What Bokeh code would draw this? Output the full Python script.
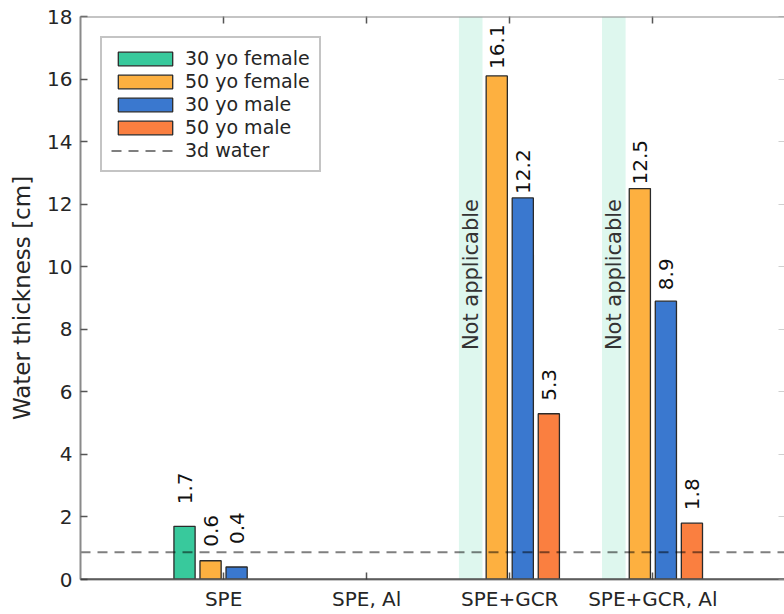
import numpy as np
from bokeh.plotting import figure
from bokeh.models import (Range1d, FixedTicker, LinearAxis, Span, Legend,
                          LegendItem, ColumnDataSource)
from bokeh.core.properties import value
from bokeh.embed import file_html
from bokeh.resources import INLINE

# ---- data -----------------------------------------------------------------
categories = ["SPE", "SPE, Al", "SPE+GCR", "SPE+GCR, Al"]
series_names = ["30 yo female", "50 yo female", "30 yo male", "50 yo male"]
female_30 = [1.7, 0.0, 0.0, 0.0]
female_50 = [0.6, 0.0, 16.1, 12.5]
male_30 = [0.4, 0.0, 12.2, 8.9]
male_50 = [0.0, 0.0, 5.3, 1.8]
female_30_not_applicable = [False, False, True, True]
water_3d = 0.87
y_ticks = [0, 2, 4, 6, 8, 10, 12, 14, 16, 18]

# ---- styling --------------------------------------------------------------
FONT = "DejaVu Sans"
TXT = "#262626"
colors = ["#38c99c", "#fdb040", "#3a78cf", "#fa7f40"]
offsets = [-0.273, -0.091, 0.091, 0.273]
bar_w = 0.148
# distance in px between bar top and the start of its value label
label_lift = [
    [22, 0, 0, 0],
    [14, 0, 7, 4],
    [23, 0, 4, 11],
    [0, 0, 13, 13],
]

series = [female_30, female_50, male_30, male_50]
cat_x = np.arange(1, len(categories) + 1)

p = figure(width=784, height=614, output_backend="svg", toolbar_location=None,
           x_range=Range1d(0, 4.92), y_range=Range1d(0, 18),
           min_border_left=80, min_border_right=0, min_border_top=16,
           min_border_bottom=35)
p.outline_line_color = None
p.xgrid.visible = False
p.ygrid.visible = False
p.background_fill_color = "white"
p.border_fill_color = "white"

# light bands marking combinations that do not apply
for i, na in enumerate(female_30_not_applicable):
    if na:
        p.vbar(x=cat_x[i] + offsets[0], top=p.y_range.end, bottom=0,
               width=0.165, fill_color="#def7ee", line_color=None)
        p.text(x=[cat_x[i] + offsets[0]], y=[9.75], text=["Not applicable"],
               angle=np.pi / 2, text_align="center", text_baseline="middle",
               text_font=value(FONT), text_font_size="21px", text_color="#333333")

# bars + value labels
legend_items = []
for s, vals in enumerate(series):
    xs = [cat_x[i] + offsets[s] for i, v in enumerate(vals) if v > 0]
    ys = [v for v in vals if v > 0]
    lifts = [-label_lift[s][i] for i, v in enumerate(vals) if v > 0]
    src = ColumnDataSource(dict(x=xs, top=ys, lbl=[f"{v:.1f}" for v in ys], off=lifts))
    r = p.vbar(x="x", top="top", bottom=0, width=bar_w, source=src,
               fill_color=colors[s], line_color="#2a2a2a", line_width=1.3)
    p.text(x="x", y="top", text="lbl", source=src, angle=np.pi / 2,
           text_align="left", text_baseline="middle", y_offset="off",
           text_font=value(FONT), text_font_size="20px", text_color="#111111")
    legend_items.append(LegendItem(label=series_names[s], renderers=[r]))

# reference line
wl = p.line(x=[p.x_range.start, p.x_range.end], y=[water_3d, water_3d],
            line_color="black", line_alpha=0.5, line_width=2, line_dash="10 7")
legend_items.append(LegendItem(label="3d water", renderers=[wl]))

# baseline
p.add_layout(Span(location=0, dimension="width", line_color="#303030", line_width=2))
# top frame line
p.add_layout(Span(location=p.y_range.end, dimension="width", line_color="#8a8a8a", line_width=2))

# axes
p.xaxis.ticker = FixedTicker(ticks=list(cat_x))
p.xaxis.major_label_overrides = {int(x): c for x, c in zip(cat_x, categories)}
p.yaxis.ticker = FixedTicker(ticks=y_ticks)
for ax in (p.xaxis[0], p.yaxis[0]):
    ax.major_tick_in = 7
    ax.major_tick_out = 0
    ax.minor_tick_in = 0
    ax.minor_tick_out = 0
    ax.major_tick_line_color = "#555555"
    ax.major_tick_line_width = 1.5
    ax.axis_line_color = "#8a8a8a"
    ax.axis_line_width = 2
    ax.major_label_text_font = FONT
    ax.major_label_text_font_size = "20px"
    ax.major_label_text_color = TXT
    ax.major_label_standoff = 8
p.xaxis.major_label_standoff = 7
p.yaxis.axis_label = "Water thickness [cm]"
p.yaxis.axis_label_text_font = FONT
p.yaxis.axis_label_text_font_size = "23px"
p.yaxis.axis_label_text_font_style = "normal"
p.yaxis.axis_label_text_color = TXT
p.yaxis.axis_label_standoff = 9

# unlabelled tick rows on the top and right frame edges
top_ax = LinearAxis(ticker=FixedTicker(ticks=list(cat_x)),
                    major_label_overrides={int(x): "" for x in cat_x},
                    major_tick_in=7, major_tick_out=0, minor_tick_in=0, minor_tick_out=0,
                    axis_line_color=None, major_tick_line_color="#555555",
                    major_tick_line_width=1.5, major_label_standoff=0)
p.add_layout(top_ax, "above")
right_ax = LinearAxis(ticker=FixedTicker(ticks=y_ticks),
                      major_label_overrides={t: "" for t in y_ticks},
                      major_tick_in=6, major_tick_out=0, minor_tick_in=0, minor_tick_out=0,
                      axis_line_color=None, major_tick_line_color="#d0d0d0",
                      major_label_standoff=0)
p.add_layout(right_ax, "right")

legend = Legend(items=legend_items, location="top_left", margin=20, padding=9,
                spacing=1, glyph_width=68, glyph_height=17, label_height=22,
                label_standoff=6, label_text_font=FONT, label_text_font_size="19px",
                label_text_color=TXT, border_line_color="#8a8a8a", border_line_width=2,
                background_fill_color="white", background_fill_alpha=1)
p.add_layout(legend)

open("out.html", "w").write(file_html(p, INLINE))
